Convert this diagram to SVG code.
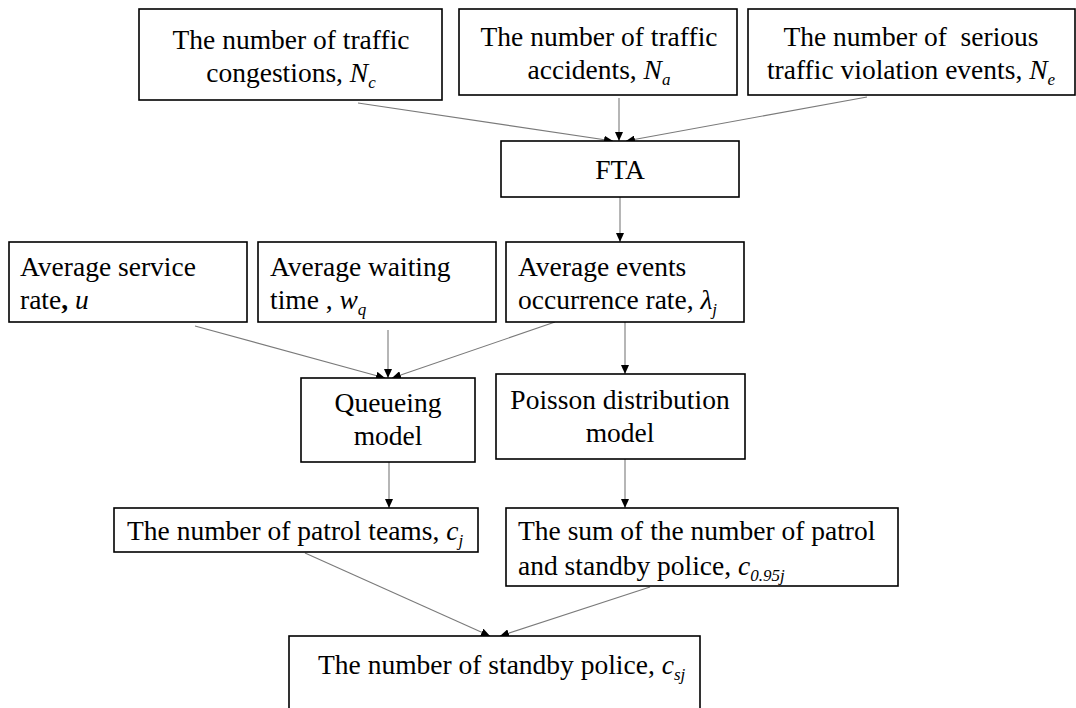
<svg xmlns="http://www.w3.org/2000/svg" width="1076" height="708" viewBox="0 0 1076 708">
<defs>
<style>
.box{fill:#fff;stroke:#000;stroke-width:1.6}
text{font-family:'Liberation Serif','Times New Roman',serif;font-size:27.5px;fill:#000}
.c{text-anchor:middle}
.i{font-style:italic}
.s{font-size:17px;font-style:italic}
.ln{stroke:#7a7a7a;stroke-width:1.1;fill:none;marker-end:url(#ah)}
</style>
<marker id="ah" markerUnits="userSpaceOnUse" markerWidth="10" markerHeight="8" refX="9" refY="4" orient="auto">
<path d="M0,0 L9,4 L0,8 Z" fill="#000"/>
</marker>
</defs>
<rect width="1076" height="708" fill="#fff"/>
<g id="connectors">
<line class="ln" x1="358" y1="103" x2="613" y2="141"/>
<line class="ln" x1="619" y1="98" x2="619" y2="141"/>
<line class="ln" x1="867" y1="97" x2="626" y2="141"/>
<line class="ln" x1="620" y1="197" x2="620" y2="242"/>
<line class="ln" x1="195" y1="326" x2="385" y2="378"/>
<line class="ln" x1="388" y1="330" x2="388" y2="378"/>
<line class="ln" x1="555" y1="322" x2="392" y2="378"/>
<line class="ln" x1="625" y1="322" x2="625" y2="374"/>
<line class="ln" x1="389" y1="462" x2="389" y2="508"/>
<line class="ln" x1="625" y1="459" x2="625" y2="508"/>
<line class="ln" x1="305" y1="553" x2="490" y2="636"/>
<line class="ln" x1="650" y1="587" x2="500" y2="636"/>
</g>
<g id="n-congestions">
<rect class="box" x="139" y="9" width="303" height="91"/>
<text class="c" x="291" y="49">The number of traffic</text>
<text class="c" x="291" y="82">congestions, <tspan class="i">N</tspan><tspan class="s" dy="6">c</tspan></text>
</g>
<g id="n-accidents">
<rect class="box" x="459" y="9" width="278" height="86"/>
<text class="c" x="599" y="46">The number of traffic</text>
<text class="c" x="599" y="79">accidents, <tspan class="i">N</tspan><tspan class="s" dy="6">a</tspan></text>
</g>
<g id="n-violations">
<rect class="box" x="748" y="9" width="327" height="86"/>
<text class="c" x="911" y="46" xml:space="preserve">The number of  serious</text>
<text class="c" x="911" y="79">traffic violation events, <tspan class="i">N</tspan><tspan class="s" dy="6">e</tspan></text>
</g>
<g id="n-fta">
<rect class="box" x="501" y="141" width="238" height="56"/>
<text class="c" x="620" y="179">FTA</text>
</g>
<g id="n-service">
<rect class="box" x="9" y="242" width="238" height="80"/>
<text x="20" y="276">Average service</text>
<text x="20" y="309">rate<tspan font-weight="bold">,</tspan> <tspan class="i">u</tspan></text>
</g>
<g id="n-waiting">
<rect class="box" x="258" y="242" width="238" height="80"/>
<text x="270" y="276">Average waiting</text>
<text x="270" y="309">time , <tspan class="i">w</tspan><tspan class="s" dy="6">q</tspan></text>
</g>
<g id="n-events">
<rect class="box" x="506" y="242" width="238" height="80"/>
<text x="518" y="276">Average events</text>
<text x="518" y="309">occurrence rate, <tspan class="i">λ</tspan><tspan class="s" dy="6">j</tspan></text>
</g>
<g id="n-queueing">
<rect class="box" x="301" y="378" width="174" height="84"/>
<text class="c" x="388" y="412">Queueing</text>
<text class="c" x="388" y="445">model</text>
</g>
<g id="n-poisson">
<rect class="box" x="496" y="374" width="249" height="85"/>
<text class="c" x="620" y="409">Poisson distribution</text>
<text class="c" x="620" y="442">model</text>
</g>
<g id="n-patrol">
<rect class="box" x="114" y="508" width="364" height="44"/>
<text x="127" y="540">The number of patrol teams, <tspan class="i">c</tspan><tspan class="s" dy="6">j</tspan></text>
</g>
<g id="n-sum">
<rect class="box" x="506" y="508" width="392" height="78"/>
<text x="518" y="540">The sum of the number of patrol</text>
<text x="518" y="575">and standby police, <tspan class="i">c</tspan><tspan class="s" dy="6">0.95j</tspan></text>
</g>
<g id="n-standby">
<rect class="box" x="289" y="636" width="411" height="80"/>
<text x="318" y="674" font-size="26.5">The number of standby police, <tspan class="i">c</tspan><tspan class="s" dy="6">sj</tspan></text>
</g>
</svg>
